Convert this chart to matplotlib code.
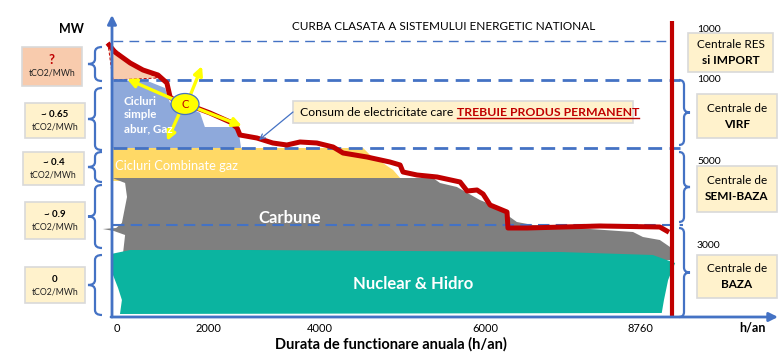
import matplotlib
matplotlib.use("Agg")
import matplotlib.pyplot as plt
from matplotlib.patches import Polygon, Rectangle, Ellipse, FancyArrowPatch, PathPatch
from matplotlib.path import Path

plt.rcParams["font.family"] = ["Lato", "DejaVu Sans"]

# ── date (ore/an, MW schematic) ──────────────────────────────
# curba clasata (consum)
load_h = [-60, 30, 270, 470, 705, 845, 895, 1000, 1315, 1520, 1835, 1945, 1990, 2255,
          2505, 2725, 2930, 3195, 3450, 3605, 3980, 4340, 4500, 4545, 4765, 5080, 5440,
          5550, 5705, 5800, 5910, 6175, 6190, 6490, 7630, 8570, 8680]
load_y = [271, 264, 253, 246, 241, 233, 219, 214, 208, 203, 194, 188, 181, 178,
          173, 171, 174, 173, 169, 163, 159, 154, 151, 144, 141, 139, 134,
          125, 126, 122, 111, 104, 88, 88, 90, 89, 85]

# Nuclear & Hidro
nuc_h = [-30, 270, 2150, 7000, 8460, 8810, 8700, 8635, 8600, 110, 140, 80, 0, -30]
nuc_y = [62, 66, 66, 64, 61, 53, 36, 16, 3, 2, 16, 28, 41, 56]

# Carbune
coal_h = [0, 5015, 5125, 5390, 5750, 6015, 6220, 6330, 6580, 8150, 8305, 8570, 8730,
          8775, 8775, 270, 160, 190, 15, -160, 50, 140, 220, 190, 30]
coal_y = [138, 138, 133, 129, 116, 109, 99, 94, 91, 84, 79, 76, 69,
          64, 56, 56, 64, 81, 85, 87, 88, 93, 119, 133, 137]

# Cicluri combinate gaz
ccgt_h = [0, 3920, 4030, 4230, 4390, 4500, 4500, 0]
ccgt_y = [168, 168, 161, 153, 146, 138, 135, 135]

# Cicluri simple abur, gaz
ocgt_h = [0, 580, 815, 895, 1205, 1365, 1440, 1960, 2005, 2005, 0]
ocgt_y = [236, 234, 228, 213, 208, 203, 189, 189, 169, 166, 166]

# RES si import
res_h = [-80, 270, 580, 705, 0]
res_y = [273, 253, 242, 238, 236]

# limitele benzilor (linii punctate) si capatul lor
band_y = [275, 236, 168, 91]
band_end_h = [8697, 8885, 8885, 8932]
year_h = 8760

x_tick_labels = ["0", "2000", "4000", "6000", "8760"]
x_tick_pos = [63, 1490, 3245, 5830, 8260]   # pozitiile etichetelor din desen

co2_labels = ["?", "~ 0.65", "~ 0.4", "~ 0.9", "0"]
cap_labels = ["1000", "1000", "5000", "3000"]
plant_labels = [("Centrale RES", "si IMPORT"), ("Centrale de", "VIRF"),
                ("Centrale de", "SEMI-BAZA"), ("Centrale de", "BAZA")]

RED = "#C00000"
BLUE = "#4472C4"
BOX = "#FFF2CC"
EDGE = "#D9D9D9"

fig = plt.figure(figsize=(7.8, 3.59), dpi=100, facecolor="white")

# ── zona graficului ──────────────────────────────────────────
ax = fig.add_axes([111 / 780, 43 / 359, 664 / 780, 298 / 359])
ax.set_xlim(-31, 10375)
ax.set_ylim(0, 298)
for s in ax.spines.values():
    s.set_visible(False)
ax.set_yticks([])
ax.set_xticks(x_tick_pos, x_tick_labels)
ax.tick_params(axis="x", length=0, pad=5, labelsize=8, labelcolor="black")
ax.patch.set_alpha(0)

p_ocgt = Polygon(list(zip(ocgt_h, ocgt_y)), closed=True, facecolor="#8EA9DB",
                 edgecolor="none", zorder=2)
ax.add_patch(p_ocgt)
ax.add_patch(Polygon(list(zip(res_h, res_y)), closed=True, facecolor="#F8CBAD",
                     edgecolor=RED, linestyle=(0, (3, 2)), linewidth=0.7,
                     zorder=2, clip_on=False))
ax.add_patch(Polygon(list(zip(ccgt_h, ccgt_y)), closed=True, facecolor="#FFD966",
                     edgecolor="none", zorder=2))
ax.add_patch(Polygon(list(zip(coal_h, coal_y)), closed=True, facecolor="#7F7F7F",
                     edgecolor="none", zorder=2, clip_on=False))
ax.add_patch(Polygon(list(zip(nuc_h, nuc_y)), closed=True, facecolor="#0BB4A0",
                     edgecolor="none", zorder=2, clip_on=False))

styles = [(1.0, (7, 4.5)), (2.0, (5, 2.7)), (2.0, (5, 2.7)), (1.5, (5.5, 3))]
for y, xe, (lw, d) in zip(band_y, band_end_h, styles):
    ax.plot([0, xe], [y, y], color=BLUE, lw=lw, dashes=d, zorder=3)

ax.plot([year_h, year_h], [0, 295], color=RED, lw=3, zorder=5, solid_capstyle="butt")
ax.plot(load_h, load_y, color=RED, lw=3.6, zorder=6, solid_joinstyle="round",
        clip_on=False)

# ── adnotari in coordonate pixel ─────────────────────────────
ov = fig.add_axes([0, 0, 1, 1], zorder=10)
ov.set_xlim(0, 780)
ov.set_ylim(359, 0)
ov.axis("off")
ov.patch.set_alpha(0)

# axe cu sageti
ov.add_patch(FancyArrowPatch((112, 317), (112, 15), arrowstyle="-|>", mutation_scale=13,
                             color=BLUE, lw=2, shrinkA=0, shrinkB=0))
ov.add_patch(FancyArrowPatch((111, 317), (778, 317), arrowstyle="-|>", mutation_scale=13,
                             color=BLUE, lw=2, shrinkA=0, shrinkB=0))


def brace(x_end, x_mid, x_tip, y0, y1, r=5):
    ym = (y0 + y1) / 2
    verts = [(x_end, y0), (x_mid, y0), (x_mid, y0 + r), (x_mid, ym - r), (x_mid, ym),
             (x_tip, ym), (x_mid, ym), (x_mid, ym + r), (x_mid, y1 - r), (x_mid, y1),
             (x_end, y1)]
    codes = [Path.MOVETO, Path.CURVE3, Path.CURVE3, Path.LINETO, Path.CURVE3,
             Path.CURVE3, Path.CURVE3, Path.CURVE3, Path.LINETO, Path.CURVE3, Path.CURVE3]
    ov.add_patch(PathPatch(Path(verts, codes), facecolor="none", edgecolor=BLUE, lw=1.6))


for y0, y1 in [(47, 81), (88, 150), (152, 182), (185, 248), (255, 315)]:
    brace(102, 95, 88, y0, y1)
for y0, y1 in [(80, 145), (152, 222), (228, 317)]:
    brace(679, 684, 690, y0, y1)

# casete CO2 stanga
left_boxes = [(22, 47, 82, 86), (25, 103, 85, 138), (23, 152, 84, 185),
              (25, 202, 85, 239), (25, 267, 85, 303)]
for i, ((x0, y0, x1, y1), lab) in enumerate(zip(left_boxes, co2_labels)):
    fc = "#F8CBAD" if i == 0 else BOX
    ov.add_patch(Rectangle((x0, y0), x1 - x0, y1 - y0, facecolor=fc, edgecolor=EDGE, lw=1.2))
    cx = (x0 + x1) / 2
    cy = (y0 + y1) / 2
    if i == 0:
        ov.text(cx, cy - 7, lab, color=RED, fontsize=9.5, fontweight="bold",
                ha="center", va="center")
    else:
        ov.text(cx, cy - 6, lab, color="black", fontsize=7, fontweight="bold",
                ha="center", va="center")
    ov.text(cx, cy + 7, "tCO2/MWh", color="#222222", fontsize=6.3, ha="center", va="center")

# casete centrale dreapta
right_boxes = [(688, 33, 773, 72), (697, 94, 777, 138), (697, 166, 777, 212),
               (697, 255, 777, 298)]
cap_y = [29, 79, 162, 246]
for (x0, y0, x1, y1), (l1, l2), cap, cy0 in zip(right_boxes, plant_labels, cap_labels, cap_y):
    ov.add_patch(Rectangle((x0, y0), x1 - x0, y1 - y0, facecolor=BOX, edgecolor=EDGE, lw=1.2))
    cx = (x0 + x1) / 2
    cy = (y0 + y1) / 2
    ov.text(cx, cy - 8, l1, fontsize=8.5, ha="center", va="center")
    ov.text(cx, cy + 8, l2, fontsize=8.5, fontweight="bold", ha="center", va="center")
    ov.text(697, cy0, cap, fontsize=7.5, ha="left", va="center")

# texte
ov.text(71, 29, "MW", fontsize=9, fontweight="bold", ha="center", va="center")
ov.text(444, 27, "CURBA CLASATA A SISTEMULUI ENERGETIC NATIONAL", fontsize=8.5,
        ha="center", va="center")
ov.text(752, 328, "h/an", fontsize=9, fontweight="bold", ha="center", va="center")
ov.text(391, 344, "Durata de functionare anuala (h/an)", fontsize=10.5,
        fontweight="bold", ha="center", va="center")

t = ov.text(124, 115, "Cicluri\nsimple\nabur, Gaz", color="white", fontsize=8.3,
            fontweight="bold", ha="left", va="center", linespacing=1.3)
t.set_clip_path(p_ocgt)
ov.text(115, 166, "Cicluri Combinate gaz", color="white", fontsize=9.3,
        ha="left", va="center")
ov.text(290, 218, "Carbune", color="white", fontsize=12, fontweight="bold",
        ha="center", va="center")
ov.text(413, 284, "Nuclear & Hidro", color="white", fontsize=12, fontweight="bold",
        ha="center", va="center")

# caseta "Consum de electricitate..."
ov.add_patch(Rectangle((293, 101), 340, 22, facecolor=BOX, edgecolor=EDGE, lw=1.2))
ov.add_patch(FancyArrowPatch((293, 112), (259, 140), arrowstyle="->", mutation_scale=9,
                             color=BLUE, lw=0.9, shrinkA=0, shrinkB=0))
t1 = ov.text(300, 112, "Consum de electricitate care", fontsize=8.8, ha="left", va="center")
fig.canvas.draw()
r = fig.canvas.get_renderer()
inv = ov.transData.inverted()
bb = t1.get_window_extent(r)
x_end = inv.transform((bb.x1, bb.y0))[0] + 3.5
t2 = ov.text(x_end, 112, "TREBUIE PRODUS PERMANENT", fontsize=8.8, color=RED,
             fontweight="bold", ha="left", va="center")
bb2 = t2.get_window_extent(r)
(ux0, uy), (ux1, _) = inv.transform([(bb2.x0, bb2.y0), (bb2.x1, bb2.y0)])
ov.plot([ux0, ux1], [uy + 0.5, uy + 0.5], color=RED, lw=1)

# cercul "C" si sagetile galbene
for start, end in [((175, 100), (127, 79)), ((190, 96), (202, 66)),
                   ((180, 112), (167, 141)), ((196, 108), (242, 126))]:
    ov.add_patch(FancyArrowPatch(start, end, arrowstyle="-|>", mutation_scale=13,
                                 color="#FFFF00", lw=2.4, shrinkA=0, shrinkB=0))
ov.add_patch(Ellipse((185, 104), 28, 21, facecolor="#FFFF00", edgecolor=BLUE, lw=0.9))
ov.text(185, 104.5, "C", color=RED, fontsize=8, ha="center", va="center")

fig.savefig("out.png", dpi=100, facecolor="white")
